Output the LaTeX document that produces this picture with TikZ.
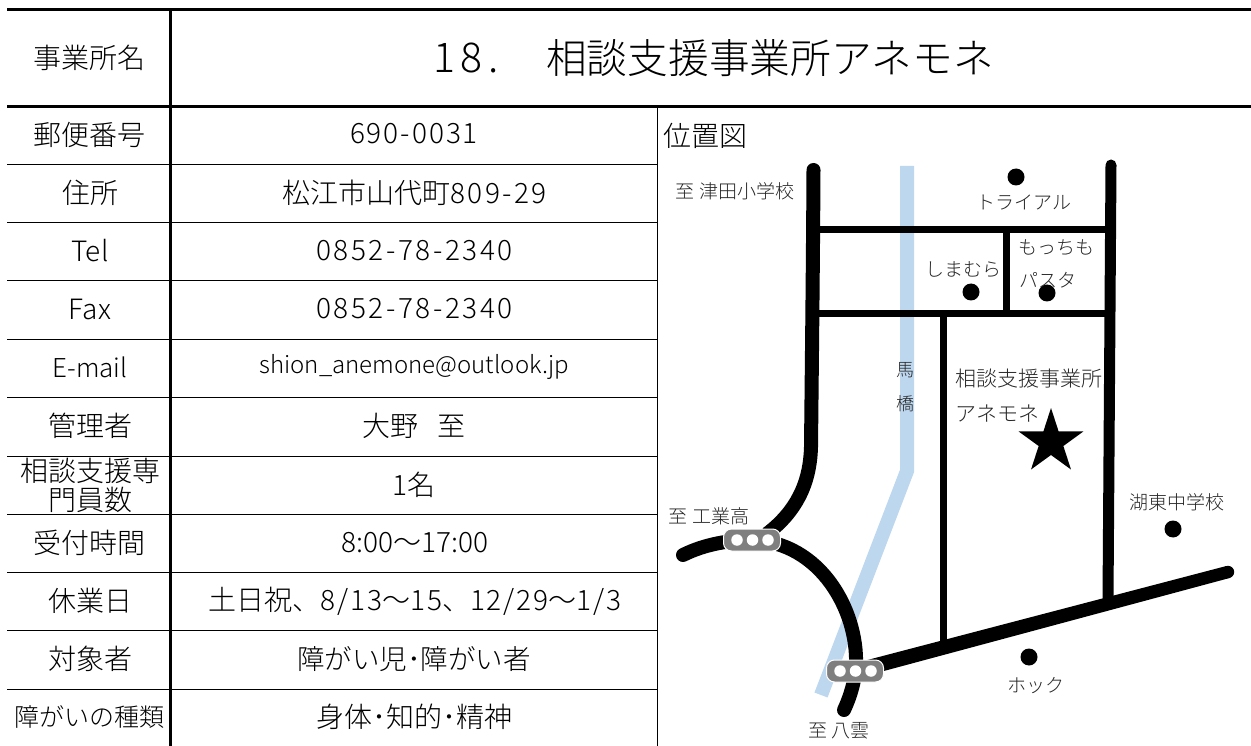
\documentclass[tikz,border=0pt]{standalone}
\usepackage{fontspec}
\setmainfont{Noto Sans CJK JP Light}
\newfontfamily\spaced[LetterSpace=7]{Noto Sans CJK JP Light}
\newfontfamily\spacedm[LetterSpace=9]{Noto Sans CJK JP Light}
\newfontfamily\spacedw[LetterSpace=14]{Noto Sans CJK JP Light}
\usetikzlibrary{shapes.geometric}
\definecolor{river}{HTML}{BDD7EE}
\definecolor{signalgrey}{HTML}{7F7F7F}
\tikzset{
  x=1pt,y=-1pt,
  heavy/.style={line width=3.3pt},
  thin rule/.style={line width=1pt},
  cell/.style={inner sep=0pt,font=\fontsize{28}{30}\selectfont,align=center},
  maplabel/.style={inner sep=0pt,font=\fontsize{19}{21}\selectfont,text=black!85},
  road/.style={line width=#1,line cap=round,line join=round},
  spot/.style={circle,fill=black,inner sep=0pt,minimum size=17pt},
  signal/.style={rectangle,rounded corners=8pt,draw=white,line width=1pt,fill=signalgrey,minimum width=57pt,minimum height=22pt,inner sep=0pt},
  lamp/.style={circle,fill=white,inner sep=0pt,minimum size=11.5pt},
}
\begin{document}
\begin{tikzpicture}
\useasboundingbox (0,0) rectangle (1251,746);
% table rules
\draw[heavy] (7,9.5) -- (1251,9.5);
\draw[heavy] (7,106.7) -- (1251,106.7);
\draw[heavy] (170.7,9) -- (170.7,746);
\draw[thin rule] (657.5,106) -- (657.5,746);
\foreach \yy in {164.5,222.5,281,339,397,456,514,572,630,689}
  \draw[thin rule] (7,\yy) -- (657,\yy);
% left column
\node[cell] (h0) at (90,58) {事業所名};
\node[cell] (h1) at (90,135) {郵便番号};
\node[cell] (h2) at (90,193) {住所};
\node[cell] (h3) at (90,251) {Tel};
\node[cell] (h4) at (90,309) {Fax};
\node[cell,font=\fontsize{26}{28}\selectfont] (h5) at (90,367) {E-mail};
\node[cell] (h6) at (90,426) {管理者};
\node[cell,font=\fontsize{28}{29}\selectfont] (h7) at (90,485) {相談支援専\\門員数};
\node[cell] (h8) at (90,543) {受付時間};
\node[cell] (h9) at (90,601) {休業日};
\node[cell] (h10) at (90,659) {対象者};
\node[cell,font=\fontsize{25}{27}\selectfont] (h11) at (90,717) {障がいの種類};
% right column
\node[cell,anchor=west,font=\fontsize{41}{43}\selectfont] (title0) at (433,58) {{\spacedw 18.}};
\node[cell,anchor=west,font=\fontsize{40.7}{43}\selectfont] (title) at (546,58) {相談支援事業所アネモネ};
\node[cell] (v1) at (414,134) {{\spaced 690-0031}};
\node[cell] (v2) at (414.5,193) {松江市山代町{\spacedm 809-29}};
\node[cell] (v3) at (414.5,251) {{\spacedm 0852-78-2340}};
\node[cell] (v4) at (414.5,309) {{\spacedm 0852-78-2340}};
\node[cell,font=\fontsize{24}{26}\selectfont] (v5) at (414.5,367) {shion\_anemone@outlook.jp};
\node[cell] (v6) at (414,426) {大野\hspace{20pt}至};
\node[cell] (v7) at (414,485) {1名};
\node[cell] (v8) at (415,543) {8:00～17:00};
\node[cell] (v9) at (415,601) {土日祝、{\spaced 8/13}～{\spaced 15}、{\spaced 12/29}～{\spaced 1/3}};
\node[cell,font=\fontsize{27.5}{30}\selectfont] (v10) at (414,659) {障がい児･障がい者};
\node[cell] (v11) at (414.5,717) {身体･知的･精神};
\node[cell,anchor=west] (mapt) at (663,136) {位置図};
% river
\draw[river,line width=14pt,line join=miter] (907,166) -- (907,471) -- (821,695);
% roads
\draw[road=14pt] (813.5,170) .. controls (813,260) and (812,350) .. (811,447) .. controls (810,485) and (795,512) .. (768,533);
\draw[road=14pt] (683,555) .. controls (705,544) and (730,540) .. (752,540) .. controls (820,542) and (858,610) .. (856,665) .. controls (855,680) and (851,695) .. (844,710);
\fill (853.1,663.75) -- (1226.4,566) -- (1229.6,578) -- (856.9,678.25) -- cycle;
\fill (1228,572) circle[radius=6.2pt];
\draw[road=11pt] (1111,165) -- (1108,600);
\draw[line width=7pt] (813,229.5) -- (1110,229.5);
\draw[line width=7pt] (813,313.5) -- (1109,313.5);
\draw[line width=7pt] (1006.5,229) -- (1006.5,314);
\draw[line width=7pt] (943.5,313) -- (943.5,648);
% spots
\node[spot] (trial) at (1016,177) {};
\node[spot] (shima) at (971,292) {};
\node[spot] (mocchi) at (1047,293) {};
\node[spot] (koto) at (1173,529) {};
\node[spot] (hock) at (1029,657) {};
\node[star,star points=5,star point ratio=2.618,fill=black,inner sep=0pt,minimum size=68pt] (anemone) at (1051,442) {};
% signals
\node[signal] (sa) at (752,540) {};
\node[lamp] at (737,540) {};
\node[lamp] at (752.5,540) {};
\node[lamp] at (768,540) {};
\node[signal] (sb) at (855,671) {};
\node[lamp] at (840,671) {};
\node[lamp] at (855.5,671) {};
\node[lamp] at (871,671) {};
% map labels
\node[maplabel] (l1) at (735,191) {至 津田小学校};
\node[maplabel] (l2) at (1024,203) {トライアル};
\node[maplabel] (l3) at (1056,247.5) {もっちも};
\node[maplabel,anchor=west] (l4) at (1019,280) {パスタ};
\node[maplabel] (l5) at (963,270) {しまむら};
\node[maplabel,font=\fontsize{21}{23}\selectfont,anchor=west] (l6) at (955,379) {相談支援事業所};
\node[maplabel,font=\fontsize{21}{23}\selectfont,anchor=west] (l7) at (955,414) {アネモネ};
\node[maplabel,font=\fontsize{18}{20}\selectfont] (l8) at (905,370) {馬};
\node[maplabel,font=\fontsize{18}{20}\selectfont] (l9) at (905,404) {橋};
\node[maplabel] (l10) at (1177,502) {湖東中学校};
\node[maplabel] (l11) at (1036,686) {ホック};
\node[maplabel] (l12) at (709,516) {至 工業高};
\node[maplabel] (l13) at (839,731) {至 八雲};
\end{tikzpicture}
\end{document}
